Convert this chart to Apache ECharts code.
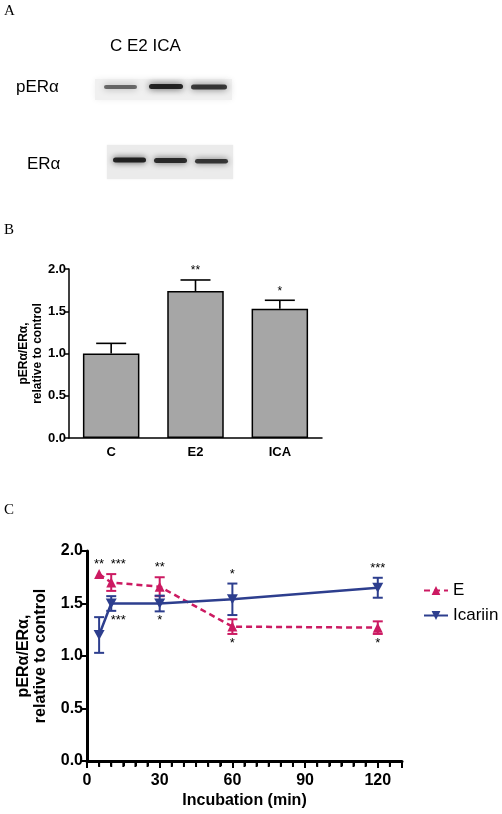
<!DOCTYPE html>
<html><head><meta charset="utf-8">
<script src="https://cdn.jsdelivr.net/npm/echarts@6/dist/echarts.min.js"></script>
<style>html,body{margin:0;padding:0;background:#fff}#c{width:502px;height:814px}</style>
</head><body><div id="c"></div>
<script>
// ---------- data ----------
const barCategories = ['C', 'E2', 'ICA'];
const barMeans = [1.00, 1.74, 1.53];
const barSems = [0.12, 0.13, 0.10];
const barStars = ['', '**', '*'];

const timeMinutes = [5, 10, 30, 60, 120];
const eMeans = [1.78, 1.70, 1.66, 1.28, 1.27];
const eSems = [0, 0.08, 0.09, 0.07, 0.06];
const eStars = ['**', '***', '**', '*', '*'];
const eStarSides = ['top', 'top', 'top', 'bottom', 'bottom'];
const icaMeans = [1.20, 1.50, 1.50, 1.54, 1.65];
const icaSems = [0.17, 0.07, 0.075, 0.15, 0.095];
const icaStars = ['', '***', '*', '*', '***'];
const icaStarSides = ['', 'bottom', 'bottom', 'top', 'top'];

const majorXTicks = [0, 30, 60, 90, 120];
const minorXTicks = [5, 10, 15, 20, 25, 35, 40, 45, 50, 55, 65, 70, 75, 80, 85, 95, 100, 105, 110, 115, 125, 130];
const seriesNames = ['E', 'Icariin'];
const yTitle = 'pERα/ERα,\nrelative to control';

// ---------- styles ----------
const SANS = '"Liberation Sans", Arial, sans-serif';
const SERIF = '"Liberation Serif", "Times New Roman", serif';
const MAG = '#cc1a62';
const BLUE = '#2d3e8e';
const starNudge = {1: 7}; // horizontal nudge (px) for crowded annotation at index 1

const chart = echarts.init(document.getElementById('c'), null, {renderer: 'canvas'});

function errBarRender(color, capW, lw) {
  return function (params, api) {
    const x = api.value(0), m = api.value(1), s = api.value(2);
    if (!s) return {type: 'group', children: []};
    const t = api.coord([x, m + s]), b = api.coord([x, m - s]);
    const st = {stroke: color, lineWidth: lw};
    return {type: 'group', children: [
      {type: 'line', shape: {x1: t[0], y1: t[1], x2: b[0], y2: b[1]}, style: st},
      {type: 'line', shape: {x1: t[0] - capW / 2, y1: t[1], x2: t[0] + capW / 2, y2: t[1]}, style: st},
      {type: 'line', shape: {x1: b[0] - capW / 2, y1: b[1], x2: b[0] + capW / 2, y2: b[1]}, style: st}
    ]};
  };
}

function starRender(stars, sides) {
  return function (params, api) {
    const i = params.dataIndex;
    const txt = stars[i];
    if (!txt) return {type: 'group', children: []};
    const x = api.value(0), m = api.value(1), s = api.value(2);
    const top = sides[i] === 'top';
    const p = api.coord([x, top ? m + s : m - s]);
    const nx = starNudge[i] || 0;
    return {type: 'text', x: p[0] + nx, y: top ? p[1] - 3 : p[1] + 3,
      style: {text: txt, font: '13px ' + SANS, fill: '#000', align: 'center',
        verticalAlign: top ? 'bottom' : 'top'}};
  };
}

// short ticks every 5 min, drawn in a thin helper grid just below the time axis
function minorTickRender(params, api) {
  const t = api.coord([api.value(0), 1]);
  const b = api.coord([api.value(0), 0]);
  return {type: 'group', children: [
    {type: 'line', shape: {x1: t[0], y1: t[1] - 1, x2: b[0], y2: b[1]},
      style: {stroke: '#000', lineWidth: 2}}
  ]};
}

function barErrRender(params, api) {
  const x = api.value(0), m = api.value(1), s = api.value(2);
  const b = api.coord([x, m]), t = api.coord([x, m + s]);
  const st = {stroke: '#000', lineWidth: 1.6};
  const i = params.dataIndex;
  const ch = [
    {type: 'line', shape: {x1: b[0], y1: b[1], x2: t[0], y2: t[1]}, style: st},
    {type: 'line', shape: {x1: t[0] - 15, y1: t[1], x2: t[0] + 15, y2: t[1]}, style: st}
  ];
  if (barStars[i]) ch.push({type: 'text', x: t[0], y: t[1] - 3,
    style: {text: barStars[i], font: '12px ' + SANS, fill: '#000', align: 'center', verticalAlign: 'bottom'}});
  return {type: 'group', children: ch};
}

// western blot drawing (panel A)
function band(x, y, w, h, alpha, blur) {
  const c = 'rgba(10,10,10,' + alpha + ')';
  return {type: 'rect', shape: {x: x, y: y, width: w, height: h, r: h / 2},
    style: {fill: c, shadowBlur: blur, shadowColor: c}};
}
const graphics = [
  {type: 'text', x: 4, y: 4, style: {text: 'A', font: '15px ' + SERIF, fill: '#000'}},
  {type: 'text', x: 4, y: 223, style: {text: 'B', font: '15px ' + SERIF, fill: '#000'}},
  {type: 'text', x: 4, y: 503, style: {text: 'C', font: '15px ' + SERIF, fill: '#000'}},
  {type: 'text', x: 110, y: 38, style: {text: 'C E2 ICA', font: '17px ' + SANS, fill: '#000'}},
  {type: 'text', x: 16, y: 79, style: {text: 'pERα', font: '17px ' + SANS, fill: '#000'}},
  {type: 'text', x: 27, y: 156, style: {text: 'ERα', font: '17px ' + SANS, fill: '#000'}},
  {type: 'rect', shape: {x: 95, y: 79, width: 137, height: 21}, style: {fill: '#f0f0f0', shadowBlur: 6, shadowColor: '#f0f0f0'}},
  {type: 'rect', shape: {x: 107, y: 145, width: 126, height: 34}, style: {fill: '#ebebeb', shadowBlur: 2, shadowColor: '#eeeeee'}},
  band(104, 85, 33, 4, 0.55, 7),
  band(149, 84, 34, 5, 0.85, 7),
  band(191, 84.5, 36, 5, 0.75, 7),
  band(113, 157.5, 33, 5, 0.85, 6),
  band(154, 158, 33, 5, 0.8, 6),
  band(195, 159, 33, 4.5, 0.75, 6)
];

const axisLabelB = {fontFamily: SANS, fontWeight: 'bold', fontSize: 13, color: '#000'};
const axisLabelC = {fontFamily: SANS, fontWeight: 'bold', fontSize: 16, color: '#000'};

const option = {
  backgroundColor: '#fff',
  animation: false,
  graphic: graphics,
  legend: {
    data: seriesNames, orient: 'vertical', left: 418, top: 577,
    itemWidth: 24, itemHeight: 11, itemGap: 8,
    textStyle: {fontFamily: SANS, fontSize: 17, color: '#000'}
  },
  grid: [
    {left: 69, top: 269, width: 253, height: 169},
    {left: 87, top: 551, width: 315, height: 210},
    {left: 87, top: 762, width: 315, height: 5}
  ],
  xAxis: [
    {type: 'category', gridIndex: 0, data: barCategories,
      axisLine: {lineStyle: {color: '#000', width: 1.5}},
      axisTick: {alignWithLabel: true, length: 4, lineStyle: {color: '#000', width: 1.5}},
      axisLabel: Object.assign({margin: 8}, axisLabelB)},
    {type: 'value', gridIndex: 1, position: 'bottom', min: 0, max: 130, interval: 30,
      axisLine: {onZero: false, lineStyle: {color: '#000', width: 3}},
      axisTick: {show: true, length: 7, lineStyle: {color: '#000', width: 2}},
      minorTick: {show: true, splitNumber: 6, length: 5, lineStyle: {color: '#000', width: 2}},
      splitLine: {show: false}, minorSplitLine: {show: false},
      axisLabel: Object.assign({margin: 12, showMaxLabel: false,
        formatter: v => (majorXTicks.indexOf(v) >= 0 ? String(v) : '')}, axisLabelC),
      name: 'Incubation (min)', nameLocation: 'middle', nameGap: 32, nameMoveOverlap: false,
      nameTextStyle: {fontFamily: SANS, fontWeight: 'bold', fontSize: 16, color: '#000'}},
    {type: 'value', gridIndex: 2, min: 0, max: 130,
      axisLine: {show: false}, axisTick: {show: false}, axisLabel: {show: false}, splitLine: {show: false}}
  ],
  yAxis: [
    {type: 'value', gridIndex: 0, min: 0, max: 2, interval: 0.5,
      axisLine: {show: true, lineStyle: {color: '#000', width: 1.5}},
      axisTick: {show: true, length: 4, lineStyle: {color: '#000', width: 1.5}},
      splitLine: {show: false},
      axisLabel: Object.assign({margin: 3, formatter: v => v.toFixed(1)}, axisLabelB),
      name: yTitle, nameLocation: 'middle', nameGap: 24, nameMoveOverlap: false,
      nameTextStyle: {fontFamily: SANS, fontWeight: 'bold', fontSize: 12, color: '#000', lineHeight: 14}},
    {type: 'value', gridIndex: 1, min: 0, max: 2, interval: 0.5,
      axisLine: {show: true, lineStyle: {color: '#000', width: 3}},
      axisTick: {show: true, length: 5, lineStyle: {color: '#000', width: 2}},
      splitLine: {show: false},
      axisLabel: Object.assign({margin: 4, formatter: v => v.toFixed(1)}, axisLabelC),
      name: yTitle, nameLocation: 'middle', nameGap: 38, nameMoveOverlap: false,
      nameTextStyle: {fontFamily: SANS, fontWeight: 'bold', fontSize: 16, color: '#000', lineHeight: 17}},
    {type: 'value', gridIndex: 2, min: 0, max: 1,
      axisLine: {show: false}, axisTick: {show: false}, axisLabel: {show: false}, splitLine: {show: false}}
  ],
  series: [
    {type: 'bar', xAxisIndex: 0, yAxisIndex: 0, data: barMeans, barWidth: '67%',
      itemStyle: {color: '#a6a6a6', borderColor: '#000', borderWidth: 1.5}},
    {type: 'custom', xAxisIndex: 0, yAxisIndex: 0, renderItem: barErrRender,
      data: barMeans.map((m, i) => [i, m, barSems[i]]), z: 5},
    {type: 'custom', xAxisIndex: 2, yAxisIndex: 2, renderItem: minorTickRender, silent: true,
      clip: false, data: minorXTicks.map(v => [v, 0.5]), z: 8},
    {name: seriesNames[0], type: 'line', xAxisIndex: 1, yAxisIndex: 1,
      data: timeMinutes.map((t, i) => [t, eMeans[i]]),
      symbol: 'triangle', symbolSize: 10,
      lineStyle: {color: MAG, width: 2.5, type: [6, 4]}, itemStyle: {color: MAG}, z: 3},
    {name: seriesNames[1], type: 'line', xAxisIndex: 1, yAxisIndex: 1,
      data: timeMinutes.map((t, i) => [t, icaMeans[i]]),
      symbol: 'path://M0,0 L10,0 L5,9 Z', symbolSize: [11, 10],
      lineStyle: {color: BLUE, width: 2.5}, itemStyle: {color: BLUE}, z: 4},
    {type: 'custom', xAxisIndex: 1, yAxisIndex: 1, renderItem: errBarRender(MAG, 10, 2),
      data: timeMinutes.map((t, i) => [t, eMeans[i], eSems[i]]), z: 6},
    {type: 'custom', xAxisIndex: 1, yAxisIndex: 1, renderItem: errBarRender(BLUE, 10, 2),
      data: timeMinutes.map((t, i) => [t, icaMeans[i], icaSems[i]]), z: 6},
    {type: 'custom', xAxisIndex: 1, yAxisIndex: 1, renderItem: starRender(eStars, eStarSides),
      data: timeMinutes.map((t, i) => [t, eMeans[i], eSems[i]]), z: 7},
    {type: 'custom', xAxisIndex: 1, yAxisIndex: 1, renderItem: starRender(icaStars, icaStarSides),
      data: timeMinutes.map((t, i) => [t, icaMeans[i], icaSems[i]]), z: 7}
  ]
};
chart.setOption(option);
</script></body></html>
